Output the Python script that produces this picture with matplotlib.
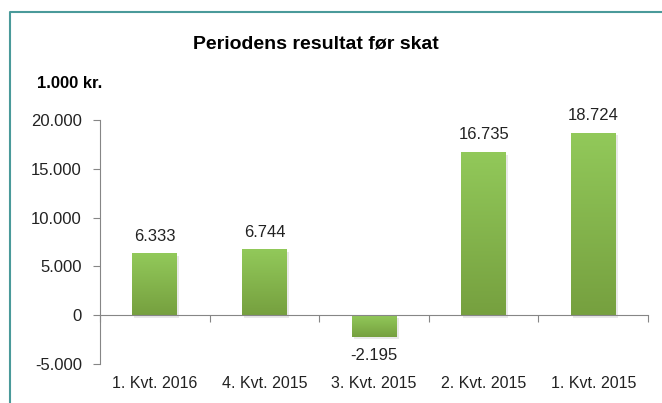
import matplotlib.pyplot as plt
import numpy as np
from matplotlib.lines import Line2D
from matplotlib.colors import LinearSegmentedColormap
from matplotlib import patheffects as pe

plt.rcParams['font.family'] = ['Liberation Sans', 'DejaVu Sans']

categories = ["1. Kvt. 2016", "4. Kvt. 2015", "3. Kvt. 2015", "2. Kvt. 2015", "1. Kvt. 2015"]
values = [6333, 6744, -2195, 16735, 18724]
y_ticks = [-5000, 0, 5000, 10000, 15000, 20000]


def fmt(v):
    return f"{v:,.0f}".replace(",", ".")


fig = plt.figure(figsize=(6.62, 4.03), dpi=100)
ax = fig.add_axes([0.151, 0.0968, 0.828, 0.605])

# teal frame (only left and top visible)
frame = Line2D([10 / 662, 10 / 662, 1.2], [-0.2, 1 - 12 / 403, 1 - 12 / 403],
               transform=fig.transFigure, color="#4a9a9a", lw=1.5)
fig.add_artist(frame)

x = np.arange(len(categories))
bars = ax.bar(x, values, width=0.41, color="#86b850", zorder=2,
              path_effects=[pe.SimplePatchShadow(offset=(1.5, -2), alpha=0.15,
                                                 shadow_rgbFace="#707070"),
                            pe.Normal()])

cmap = LinearSegmentedColormap.from_list("g", ["#76a03f", "#92c95a"])
grad = np.linspace(0, 1, 256).reshape(-1, 1)
for b in bars:
    x0, y0 = b.get_x(), b.get_y()
    w, h = b.get_width(), b.get_height()
    lo, hi = min(y0, y0 + h), max(y0, y0 + h)
    im = ax.imshow(grad, cmap=cmap, aspect="auto", origin="lower",
                   extent=(x0, x0 + w, lo, hi), zorder=3)
    im.set_clip_path(b)

ax.set_xlim(-0.5, len(categories) - 0.5)
ax.set_ylim(-5000, 20000)
ax.set_yticks(y_ticks)
ax.set_yticklabels([fmt(v) for v in y_ticks], fontsize=12, color="#222222")
ax.tick_params(axis="y", length=5, color="#868686", pad=8)

ax.spines["top"].set_visible(False)
ax.spines["right"].set_visible(False)
ax.spines["left"].set_color("#868686")
ax.spines["bottom"].set_color("#868686")
ax.spines["bottom"].set_position(("data", 0))
ax.spines["bottom"].set_zorder(4)

ax.set_xticks(np.arange(len(categories) + 1) - 0.5)
ax.set_xticklabels([])
ax.tick_params(axis="x", length=5, color="#868686")

for i, c in enumerate(categories):
    ax.annotate(c, (i, -5000), xytext=(0, -9), textcoords="offset points",
                ha="center", va="top", fontsize=11.5, color="#222222")

for i, v in enumerate(values):
    if v >= 0:
        ax.annotate(fmt(v), (i, v), xytext=(0, 7), textcoords="offset points",
                    ha="center", va="bottom", fontsize=12, color="#222222")
    else:
        ax.annotate(fmt(v), (i, v), xytext=(0, -8), textcoords="offset points",
                    ha="center", va="top", fontsize=12, color="#222222")

fig.text(0.477, 1 - 44 / 403, "Periodens resultat før skat", ha="center",
         va="center", fontsize=14, fontweight="bold")
fig.text(37 / 662, 1 - 84 / 403, "1.000 kr.", ha="left", va="center",
         fontsize=12, fontweight="bold")

fig.savefig("out.png", dpi=100)
